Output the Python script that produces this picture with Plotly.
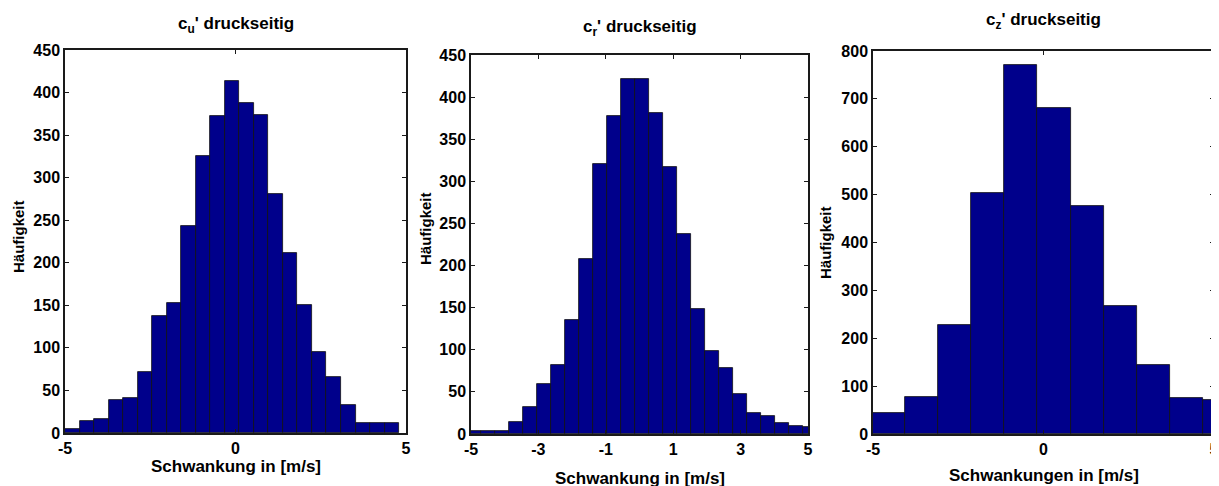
import plotly.graph_objects as go

# ---------------- data ----------------
# Panel 1: c_u' druckseitig
cu_centers = [-4.787, -4.361, -3.935, -3.509, -3.083, -2.657, -2.231, -1.805,
              -1.379, -0.953, -0.527, -0.101, 0.325, 0.751, 1.177, 1.603,
              2.029, 2.455, 2.881, 3.307, 3.733, 4.159, 4.585]
cu_counts = [5, 14, 17, 39, 41, 72, 138, 153, 243, 326, 373, 414, 388, 374,
             281, 211, 150, 95, 66, 33, 12, 12, 12]
cu_width = 0.426

# Panel 2: c_r' druckseitig
cr_centers = [-4.90, -4.49, -4.07, -3.66, -3.24, -2.83, -2.41, -2.00, -1.58,
              -1.17, -0.76, -0.34, 0.07, 0.49, 0.90, 1.32, 1.73, 2.15, 2.56,
              2.98, 3.39, 3.81, 4.22, 4.64, 5.05]
cr_counts = [4, 3, 4, 14, 32, 59, 82, 135, 208, 321, 378, 421, 422, 381, 317,
             237, 148, 99, 78, 48, 25, 21, 13, 9, 8]
cr_width = 0.415

# Panel 3: c_z' druckseitig
cz_centers = [-4.56, -3.586, -2.612, -1.638, -0.665, 0.309, 1.283, 2.256,
              3.230, 4.204, 5.177]
cz_counts = [44, 78, 228, 503, 771, 680, 476, 267, 144, 75, 72]
cz_width = 0.974

titles = ["c<sub>u</sub>' druckseitig", "c<sub>r</sub>' druckseitig",
          "c<sub>z</sub>' druckseitig"]
xtitles = ["Schwankung in [m/s]", "Schwankung in [m/s]", "Schwankungen in [m/s]"]
ytitle = "Häufigkeit"
xticks = [[-5, 0, 5], [-5, -3, -1, 1, 3, 5], [-5, 0, 5]]
yticks = [list(range(0, 451, 50)), list(range(0, 451, 50)), list(range(0, 801, 100))]
yranges = [[0, 450], [0, 450], [0, 800]]

# ---------------- figure ----------------
W, H = 1219, 486
OFF = 8  # page body margin: figure starts 8 px from the window edge
BAR = "#00008B"
LINE = "#1a1a1a"
FONT = "Liberation Sans"

fig = go.Figure()
series = [(cu_centers, cu_counts, cu_width),
          (cr_centers, cr_counts, cr_width),
          (cz_centers, cz_counts, cz_width)]
for i, (cx, cy, w) in enumerate(series):
    sfx = "" if i == 0 else str(i + 1)
    fig.add_trace(go.Bar(x=cx, y=cy, width=w,
                         marker=dict(color=BAR, line=dict(color="#111111", width=0.8)),
                         xaxis="x" + sfx, yaxis="y" + sfx, showlegend=False))

# plot area boxes in window pixels: (left, right, top, bottom)
boxes = [(65, 406, 50, 433), (471, 808, 55, 434), (873, 1214, 51, 434)]

def px(x):
    return (x - OFF) / W

def py(y):
    return 1 - (y - OFF) / H

tickfont = dict(family=FONT, size=16, color="black", weight="bold")
layout = dict(width=W, height=H,
              margin=dict(l=0, r=0, t=0, b=0, pad=0, autoexpand=False),
              paper_bgcolor="white", plot_bgcolor="white", bargap=0,
              showlegend=False)
for i, (l, r, t, b) in enumerate(boxes):
    sfx = "" if i == 0 else str(i + 1)
    layout["xaxis" + sfx] = dict(domain=[px(l), px(r)], range=[-5, 5], anchor="y" + sfx,
                                 tickvals=xticks[i], ticktext=[str(v) for v in xticks[i]],
                                 ticks="inside", ticklen=4, tickcolor=LINE, tickwidth=1,
                                 showline=True, linecolor=LINE, linewidth=1.5, mirror="ticks",
                                 showgrid=False, zeroline=False, tickfont=tickfont,
                                 fixedrange=True, automargin=False)
    layout["yaxis" + sfx] = dict(domain=[py(b), py(t)], range=yranges[i], anchor="x" + sfx,
                                 tickvals=yticks[i], ticks="inside", ticklen=4, tickcolor=LINE,
                                 tickwidth=1, showline=True, linecolor=LINE, linewidth=1.5,
                                 mirror="ticks", showgrid=False, zeroline=False,
                                 tickfont=tickfont, fixedrange=True, automargin=False)

fig.update_layout(**layout)

ann = []
title_y = [25, 28, 21]
xtitle_y = [466, 478, 475]
ytitle_pos = [(18, 237), (425, 229), (825, 243)]
for i, (l, r, t, b) in enumerate(boxes):
    cx = (l + r) / 2
    ann.append(dict(text=titles[i], x=px(cx), y=py(title_y[i]), xref="paper", yref="paper",
                    showarrow=False, xanchor="center", yanchor="middle",
                    font=dict(family=FONT, size=17, color="black", weight="bold")))
    ann.append(dict(text=xtitles[i], x=px(cx), y=py(xtitle_y[i]), xref="paper", yref="paper",
                    showarrow=False, xanchor="center", yanchor="middle",
                    font=dict(family=FONT, size=17, color="black", weight="bold")))
    yx, yy = ytitle_pos[i]
    ann.append(dict(text=ytitle, x=px(yx), y=py(yy), xref="paper", yref="paper",
                    showarrow=False, xanchor="center", yanchor="middle", textangle=-90,
                    font=dict(family=FONT, size=15, color="black", weight="bold")))
fig.update_layout(annotations=ann)

fig.write_html("out.html", config={"displayModeBar": False})
